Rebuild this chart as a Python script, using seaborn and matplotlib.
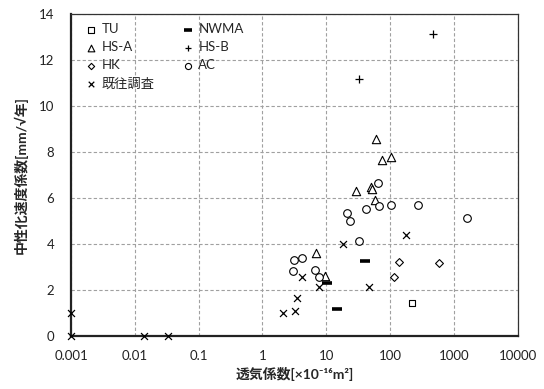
import matplotlib
matplotlib.use("Agg")
import matplotlib.pyplot as plt
import seaborn as sns
import pandas as pd
from matplotlib.ticker import FixedLocator, FixedFormatter

# ---- data ----
tu_x = [221]
tu_y = [1.44]
nwma_x = [40, 10.2, 14.9]
nwma_y = [3.26, 2.28, 1.17]
hsa_x = [61, 75, 104, 29, 50, 53, 58, 6.9, 9.7]
hsa_y = [8.57, 7.65, 7.76, 6.31, 6.46, 6.37, 5.89, 3.61, 2.60]
hsb_x = [467, 32.3]
hsb_y = [13.14, 11.16]
hk_x = [137, 593, 117]
hk_y = [3.22, 3.15, 2.57]
ac_x = [65, 42, 68, 104, 21, 23.3, 278, 1590, 32.7, 3.13, 4.18, 2.98, 6.74, 7.6]
ac_y = [6.66, 5.53, 5.66, 5.67, 5.33, 5.00, 5.69, 5.13, 4.12, 3.29, 3.39, 2.82, 2.85, 2.57]
prev_x = [176, 18.1, 4.13, 7.7, 46.9, 3.44, 2.08, 3.28, 0.001, 0.001, 0.0139, 0.0326]
prev_y = [4.37, 3.99, 2.57, 2.13, 2.10, 1.65, 1.00, 1.07, 1.00, 0.00, 0.00, 0.00]

x_ticks = [0.001, 0.01, 0.1, 1, 10, 100, 1000, 10000]
x_tick_labels = ["0.001", "0.01", "0.1", "1", "10", "100", "1000", "10000"]
y_ticks = [0, 2, 4, 6, 8, 10, 12, 14]

sns.set_theme(style="white")
plt.rcParams['font.family'] = ['Lato', 'Noto Sans CJK JP', 'DejaVu Sans']

fig = plt.figure(figsize=(5.44, 3.89), dpi=100)
ax = fig.add_axes([71/544, 1-335.7/389, 446.7/544, 321.7/389])

groups = [
    ("TU", tu_x, tu_y, "s", True, 5.0, 0.8),
    ("HS-A", hsa_x, hsa_y, "^", True, 6.0, 0.8),
    ("HK", hk_x, hk_y, "D", True, 4.0, 0.8),
    ("既往調査", prev_x, prev_y, "x", False, 5.0, 0.9),
    ("NWMA", nwma_x, nwma_y, "_", False, 6.5, 2.6),
    ("HS-B", hsb_x, hsb_y, "+", False, 6.0, 0.9),
    ("AC", ac_x, ac_y, "o", True, 5.5, 0.8),
]

for name, xs, ys, mk, filled, ms, lw in groups:
    df = pd.DataFrame({"x": xs, "y": ys})
    if filled:
        sns.scatterplot(data=df, x="x", y="y", ax=ax, marker=mk, s=ms**2,
                        facecolor="white", edgecolor="black", linewidth=lw,
                        label=name, clip_on=False, zorder=3)
    else:
        sns.scatterplot(data=df, x="x", y="y", ax=ax, marker=mk, s=ms**2,
                        color="black", linewidth=lw,
                        label=name, clip_on=False, zorder=3)

ax.set_xscale("log")
ax.set_xlim(0.001, 10000)
ax.set_ylim(0, 14)
ax.xaxis.set_major_locator(FixedLocator(x_ticks))
ax.xaxis.set_major_formatter(FixedFormatter(x_tick_labels))
ax.xaxis.set_minor_locator(FixedLocator([]))
ax.set_yticks(y_ticks)
ax.tick_params(axis="both", length=0, labelsize=9.5, colors="#222222")
ax.tick_params(axis="x", pad=10)
ax.tick_params(axis="y", pad=12)

ax.grid(True, which="major", linestyle=(0, (3, 2)), color="#a0a0a0", linewidth=0.8)
ax.set_axisbelow(True)

for side in ["left", "bottom"]:
    ax.spines[side].set_color("#222222")
    ax.spines[side].set_linewidth(1.6)
for side in ["top", "right"]:
    ax.spines[side].set_color("#333333")
    ax.spines[side].set_linewidth(0.9)

ax.set_xlabel("透気係数[×10⁻¹⁶m²]", fontsize=10, fontweight="bold", labelpad=4)
ax.set_ylabel("中性化速度係数[mm/√年]", fontsize=10, fontweight="bold", labelpad=8)

ax.legend(loc="upper left", bbox_to_anchor=(0.01, 1.0), ncol=2, frameon=False,
          fontsize=9.5, handletextpad=0.3, columnspacing=2.0, labelspacing=0.45,
          borderaxespad=0.3, handlelength=1.0, markerscale=0.8)

fig.savefig("out.png", dpi=100)
